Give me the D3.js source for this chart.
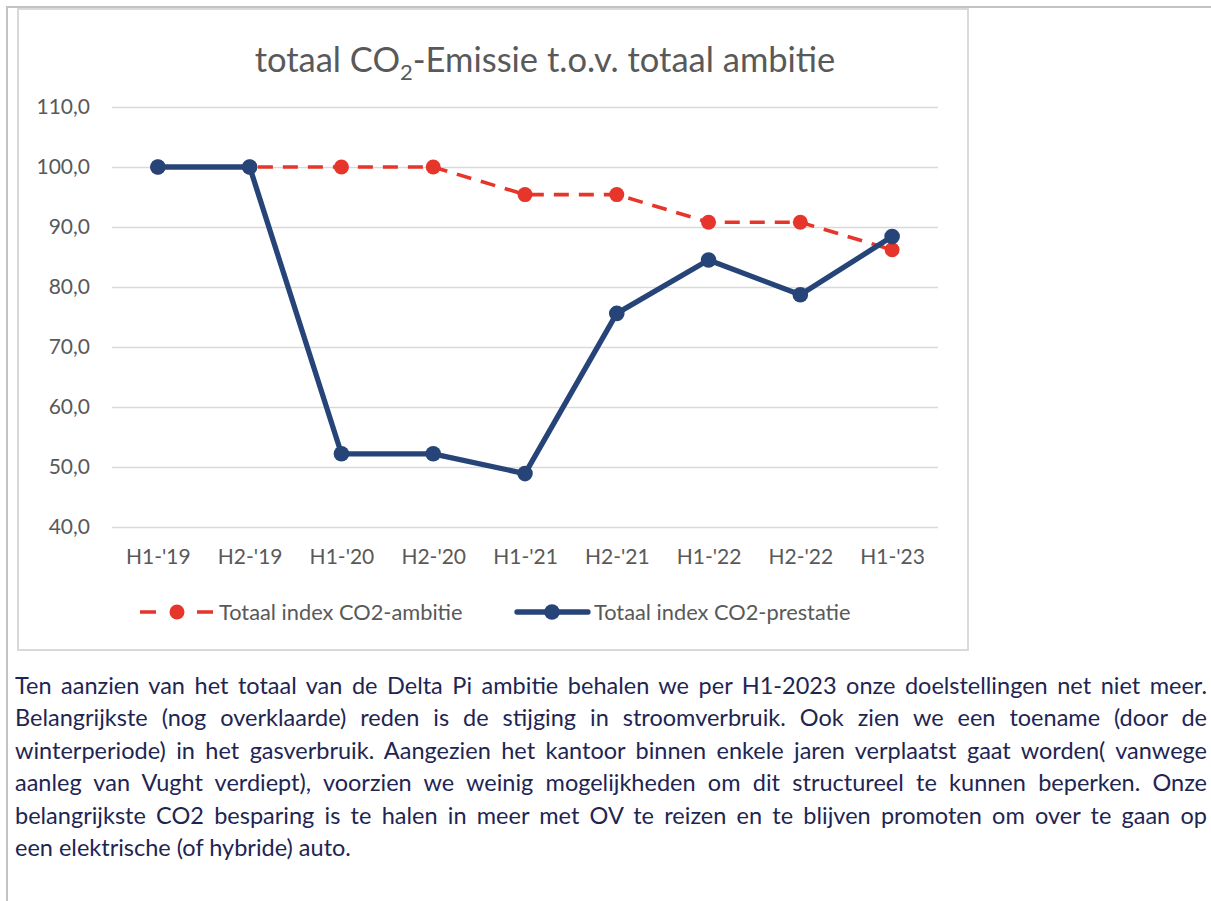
<!DOCTYPE html>
<html>
<head>
  <meta charset="utf-8">
  <title>totaal CO2-Emissie t.o.v. totaal ambitie</title>
  <style>
    body { margin: 0; background: #fff; }
    text { font-family: Lato, "Open Sans", sans-serif; }
  </style>
</head>
<body>
  <svg width="1211" height="901"></svg>
  <script src="https://cdn.jsdelivr.net/npm/d3@7"></script>
  <script>
  // data
  var categories = ["H1-'19", "H2-'19", "H1-'20", "H2-'20", "H1-'21", "H2-'21", "H1-'22", "H2-'22", "H1-'23"];
  var ambitie = [100, 100, 100, 100, 95.4, 95.4, 90.8, 90.8, 86.2];
  var prestatie = [100, 100, 52.2, 52.2, 48.9, 75.6, 84.5, 78.7, 88.4];
  var yTicks = [40, 50, 60, 70, 80, 90, 100, 110];
  var legendNames = ["Totaal index CO2-ambitie", "Totaal index CO2-prestatie"];
  var paragraph = [
    "Ten aanzien van het totaal van de Delta Pi ambitie behalen we per H1-2023 onze doelstellingen net niet meer.",
    "Belangrijkste (nog overklaarde) reden is de stijging in stroomverbruik. Ook zien we een toename (door de",
    "winterperiode) in het gasverbruik. Aangezien het kantoor binnen enkele jaren verplaatst gaat worden( vanwege",
    "aanleg van Vught verdiept), voorzien we weinig mogelijkheden om dit structureel te kunnen beperken. Onze",
    "belangrijkste CO2 besparing is te halen in meer met OV te reizen en te blijven promoten om over te gaan op",
    "een elektrische (of hybride) auto."
  ];

  var red = "#e6352b", blue = "#264478", grey = "#595959";
  var svg = d3.select("svg");

  // page frame + chart box
  svg.append("path").attr("d", "M7,901V7H1211").attr("fill", "none")
    .attr("stroke", "#c3c3c3").attr("stroke-width", 2);
  svg.append("rect").attr("x", 18).attr("y", 9).attr("width", 950).attr("height", 641)
    .attr("fill", "#fff").attr("stroke", "#d9d9d9").attr("stroke-width", 2);

  // title
  var title = svg.append("text").attr("x", 545).attr("y", 72).attr("text-anchor", "middle")
    .attr("font-size", 34.5).attr("fill", grey);
  title.append("tspan").text("totaal CO");
  title.append("tspan").attr("font-size", 22).attr("dy", 8).text("2");
  title.append("tspan").attr("dy", -8).text("-Emissie t.o.v. totaal ambitie");

  // scales
  var x = d3.scalePoint().domain(categories).range([112, 938]).padding(0.5);
  var y = d3.scaleLinear().domain([40, 110]).range([527, 107]);
  var nl = d3.formatLocale({ decimal: ",", thousands: ".", grouping: [3], currency: ["€", ""] });

  // y axis with gridlines
  var yAxis = svg.append("g").attr("transform", "translate(112,0)")
    .call(d3.axisLeft(y).tickValues(yTicks).tickSize(-826).tickPadding(22).tickFormat(nl.format(".1f")));
  yAxis.select(".domain").remove();
  yAxis.selectAll("line").attr("stroke", "#d9d9d9").attr("stroke-width", 1.6);
  yAxis.selectAll("text").attr("font-size", 21).attr("fill", grey).attr("font-family", "Lato");

  // x axis labels
  var xAxis = svg.append("g").attr("transform", "translate(0,527)")
    .call(d3.axisBottom(x).tickSize(0).tickPadding(22));
  xAxis.select(".domain").remove();
  xAxis.selectAll("text").attr("font-size", 21).attr("fill", grey).attr("font-family", "Lato");

  // lines
  var line = d3.line().x(function(d, i) { return x(categories[i]); }).y(function(d) { return y(d); });

  svg.append("path").datum(ambitie).attr("d", line).attr("fill", "none")
    .attr("stroke", red).attr("stroke-width", 3.6).attr("stroke-dasharray", "15,10")
    .attr("stroke-linejoin", "round");
  svg.append("g").selectAll("circle").data(ambitie).enter().append("circle")
    .attr("cx", function(d, i) { return x(categories[i]); })
    .attr("cy", function(d) { return y(d); })
    .attr("r", 7.5).attr("fill", red);

  svg.append("path").datum(prestatie).attr("d", line).attr("fill", "none")
    .attr("stroke", blue).attr("stroke-width", 5.3).attr("stroke-linejoin", "round");
  svg.append("g").selectAll("circle").data(prestatie).enter().append("circle")
    .attr("cx", function(d, i) { return x(categories[i]); })
    .attr("cy", function(d) { return y(d); })
    .attr("r", 7.8).attr("fill", blue);

  // legend
  var ly = 612;
  svg.append("line").attr("x1", 140).attr("x2", 213).attr("y1", ly).attr("y2", ly)
    .attr("stroke", red).attr("stroke-width", 3.6).attr("stroke-dasharray", "16,41");
  svg.append("circle").attr("cx", 177).attr("cy", ly).attr("r", 7.5).attr("fill", red);
  svg.append("line").attr("x1", 517).attr("x2", 588).attr("y1", ly).attr("y2", ly)
    .attr("stroke", blue).attr("stroke-width", 5.3).attr("stroke-linecap", "round");
  svg.append("circle").attr("cx", 552).attr("cy", ly).attr("r", 7.8).attr("fill", blue);
  svg.selectAll(".leg").data(legendNames).enter().append("text").attr("class", "leg")
    .attr("x", function(d, i) { return i === 0 ? 219 : 594; })
    .attr("y", ly).attr("dy", "0.35em").attr("font-size", 21.8).attr("fill", grey)
    .text(function(d) { return d; });

  // paragraph below chart, justified
  var para = svg.append("g");
  paragraph.forEach(function(s, i) {
    var t = para.append("text").attr("x", 15).attr("y", 694 + i * 32.4)
      .attr("font-size", 23.5).attr("fill", "#1e2553").text(s);
    if (i < paragraph.length - 1) {
      var w = t.node().getComputedTextLength();
      var gaps = s.split(" ").length - 1;
      t.attr("word-spacing", (1192 - w) / gaps);
    }
  });
  </script>
</body>
</html>
